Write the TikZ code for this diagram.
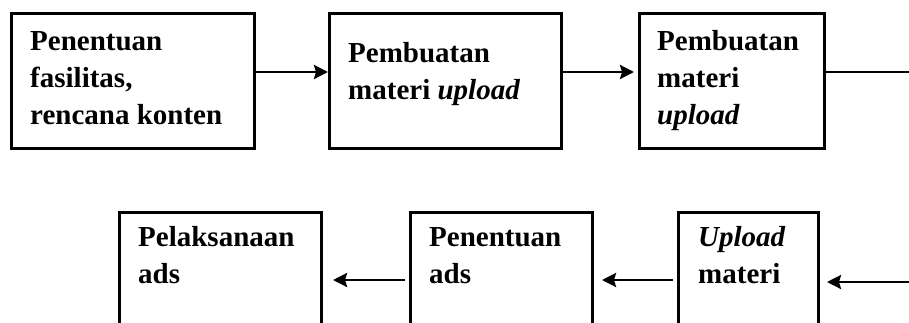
\documentclass[tikz,border=0pt]{standalone}
\usepackage{fontspec}
\setmainfont{Liberation Serif}
\usetikzlibrary{arrows.meta}
\tikzset{
  stepbox/.style={draw=black, line width=3pt, fill=white, inner sep=0pt},
  lbl/.style={anchor=base west, align=left, inner sep=0pt, font=\fontsize{29}{37}\selectfont\bfseries},
  arr/.style={line width=2.6pt, -{Stealth[length=14pt,width=14pt,inset=2pt]}},
  ln/.style={line width=2.6pt},
}
\begin{document}
\begin{tikzpicture}[x=1pt,y=-1pt]
\useasboundingbox (0,0) rectangle (909,322);
\clip (0,0) rectangle (909,322);
% boxes
\node[stepbox, minimum width=243pt, minimum height=135pt, anchor=north west] (b1) at (10,12) {};
\node[stepbox, minimum width=232pt, minimum height=135pt, anchor=north west] (b2) at (328,12) {};
\node[stepbox, minimum width=185pt, minimum height=135pt, anchor=north west] (b3) at (638,12) {};
\node[stepbox, minimum width=202pt, minimum height=140pt, anchor=north west] (b4) at (118,211) {};
\node[stepbox, minimum width=182pt, minimum height=140pt, anchor=north west] (b5) at (409,211) {};
\node[stepbox, minimum width=140pt, minimum height=140pt, anchor=north west] (b6) at (677,211) {};
% texts (anchored at the baseline of the last line)
\node[lbl] (t1) at (30,124) {Penentuan\\fasilitas,\\rencana konten};
\node[lbl] (t2) at (348,99) {Pembuatan\\materi \textit{upload}};
\node[lbl] (t3) at (657,124) {Pembuatan\\materi\\\textit{upload}};
\node[lbl] (t4) at (138,283) {Pelaksanaan\\ads};
\node[lbl] (t5) at (429,283) {Penentuan\\ads};
\node[lbl] (t6) at (698,283) {\textit{Upload}\\materi};
% free ends
\coordinate (e1) at (915,72);
\coordinate (e2) at (915,282);
% connectors
\draw[arr] (b1.east|-0,72) -- (b2.west|-0,72);
\draw[arr, shorten >=4pt] (b2.east|-0,72) -- (b3.west|-0,72);
\draw[ln] (b3.east|-0,72) -- (e1);
\draw[arr, shorten >=7pt] (e2) -- (b6.east|-0,282);
\draw[arr, shorten <=4pt, shorten >=8pt] (b6.west|-0,280) -- (b5.east|-0,280);
\draw[arr, shorten <=4pt, shorten >=10pt] (b5.west|-0,280) -- (b4.east|-0,280);
\end{tikzpicture}
\end{document}
